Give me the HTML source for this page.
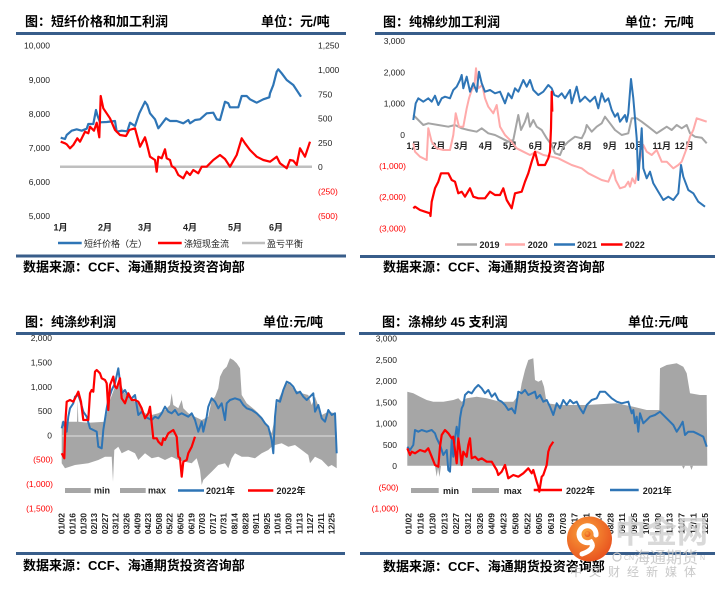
<!DOCTYPE html>
<html><head><meta charset="utf-8">
<style>
html,body{margin:0;padding:0;background:#fff;}
svg{display:block;}
.t{font-family:"Liberation Sans","Noto Sans CJK SC",sans-serif;font-weight:bold;font-size:13px;fill:#000;}
.n{font-family:"Liberation Sans",sans-serif;font-size:8.5px;fill:#222;}
.nr{font-family:"Liberation Sans",sans-serif;font-size:8.5px;fill:#f00;}
.m{font-family:"Liberation Sans","Noto Sans CJK SC",sans-serif;font-size:9px;font-weight:bold;fill:#222;}
.lg{font-family:"Liberation Sans","Noto Sans CJK SC",sans-serif;font-size:9px;fill:#222;}
.lb{font-family:"Liberation Sans","Noto Sans CJK SC",sans-serif;font-size:9px;font-weight:bold;fill:#222;}
.d{font-family:"Liberation Sans",sans-serif;font-size:8.5px;font-weight:bold;fill:#222;}
</style></head>
<body>
<svg width="724" height="589" viewBox="0 0 724 589" xmlns="http://www.w3.org/2000/svg">
<rect width="724" height="589" fill="#fff"/>

<!-- ===== Rules ===== -->
<g fill="#385D8A">
<rect x="16" y="32" width="330" height="3"/>
<rect x="375" y="32" width="340" height="3"/>
<rect x="16" y="254.5" width="330" height="3"/>
<rect x="360" y="255" width="355" height="3"/>
<rect x="16" y="332" width="329" height="3"/>
<rect x="359" y="332" width="356" height="3"/>
<rect x="16" y="552" width="329" height="3"/>
<rect x="360" y="552" width="355" height="3"/>
</g>

<!-- ===== Titles ===== -->
<text class="t" x="25" y="26">图：短纤价格和加工利润</text>
<text class="t" x="261" y="26">单位：元/吨</text>
<text class="t" x="383" y="26.5">图：纯棉纱加工利润</text>
<text class="t" x="625" y="26.5">单位：元/吨</text>
<text class="t" x="25" y="326.5">图：纯涤纱利润</text>
<text class="t" x="263" y="326.5">单位:元/吨</text>
<text class="t" x="382" y="326.5">图：涤棉纱 45 支利润</text>
<text class="t" x="628" y="326.5">单位:元/吨</text>

<text class="t" x="23" y="271.5">数据来源：CCF、海通期货投资咨询部</text>
<text class="t" x="383" y="271.5">数据来源：CCF、海通期货投资咨询部</text>
<text class="t" x="23" y="570">数据来源：CCF、海通期货投资咨询部</text>
<text class="t" x="383" y="571">数据来源：CCF、海通期货投资咨询部</text>

<!-- ===== TL chart ===== -->
<g text-anchor="end">
<text class="n" x="50" y="48.7">10,000</text>
<text class="n" x="50" y="82.8">9,000</text>
<text class="n" x="50" y="116.9">8,000</text>
<text class="n" x="50" y="151">7,000</text>
<text class="n" x="50" y="185.1">6,000</text>
<text class="n" x="50" y="219.2">5,000</text>
</g>
<text class="n" x="318" y="48.7">1,250</text>
<text class="n" x="318" y="73">1,000</text>
<text class="n" x="318" y="97.3">750</text>
<text class="n" x="318" y="121.6">500</text>
<text class="n" x="318" y="145.9">250</text>
<text class="n" x="318" y="170.2">0</text>
<text class="nr" x="318" y="194.5">(250)</text>
<text class="nr" x="318" y="218.8">(500)</text>
<g text-anchor="middle">
<text class="m" x="60.5" y="230.5">1月</text>
<text class="m" x="105" y="230.5">2月</text>
<text class="m" x="145" y="230.5">3月</text>
<text class="m" x="190" y="230.5">4月</text>
<text class="m" x="235" y="230.5">5月</text>
<text class="m" x="276" y="230.5">6月</text>
</g>
<line x1="60" y1="166.7" x2="312" y2="166.7" stroke="#BFBFBF" stroke-width="2.5"/>
<polyline fill="none" stroke="#2E75B6" stroke-width="2.2" stroke-linejoin="round" points="60.7,137.7 65,139 66.7,135 71.7,130.7 76.7,129.3 81.7,130.7 86.7,128.7 88.3,124 93.3,124 96,110 97.3,115 100,122.3 106.7,122 115,121 116.7,131.7 121.7,130.7 127.3,131.3 130,122.7 135,126 139.3,113.3 145,101.7 147.3,105 150,113.3 155,119.3 158.3,128.3 161.7,124 166,118.3 170,121 176.7,121 183.3,123.3 188.3,120 190,123.3 195,120 200,119.3 206.7,113.3 213.3,112.7 216.7,119.3 220,120 225,101.7 228.3,103.3 230,107.3 238.3,107.3 241.7,96 246.7,96 250,99.3 256.7,102.7 263.3,99.3 269.3,97.3 270,93.3 273.3,85 276.7,71.7 278.3,69.3 281.7,73.3 286.7,80 293.3,85 301,96.7"/>
<polyline fill="none" stroke="#FF0000" stroke-width="2.2" stroke-linejoin="round" points="60.7,141.7 65,143.3 66.7,144.3 70,148.3 73.3,145 77.3,138.3 80,141.7 85,131.7 88.3,133.3 90,126.7 94,130.7 96.7,122.7 99.3,137.3 100.7,96 103.3,108.3 110,118.3 115,130 120,135 126,136 129.3,130 135,128.3 140,146.7 145,137.3 146.7,143.3 150,156.7 155,160 156.7,171.7 158.3,156.7 161.7,158.3 165,149.3 166.7,158.3 170,160 171.7,166 175,168.3 178.3,175 183.3,178.3 186.7,171.7 190,175 193.3,170 198.3,173.3 201.7,166.7 206.7,166.7 213.3,160 220,155 225,159 230,166.7 236.7,155 241.7,138.3 245,143.3 250,150 256.7,156.7 263.3,160 270,161.7 276.7,156.7 280,163.3 286.7,168.3 290,160 293.3,160.7 296.7,165 300,148.3 305,156.7 310,141.7"/>
<line x1="58" y1="243" x2="81.7" y2="243" stroke="#2E75B6" stroke-width="2.5"/>
<text class="lg" x="84" y="247">短纤价格（左）</text>
<line x1="158" y1="243" x2="181.7" y2="243" stroke="#FF0000" stroke-width="2.5"/>
<text class="lg" x="184" y="247">涤短现金流</text>
<line x1="242" y1="243" x2="265" y2="243" stroke="#BFBFBF" stroke-width="2.5"/>
<text class="lg" x="267" y="247">盈亏平衡</text>

<!-- ===== TR chart ===== -->
<g text-anchor="end">
<text class="n" x="405" y="44.2">3,000</text>
<text class="n" x="405" y="75.4">2,000</text>
<text class="n" x="405" y="106.6">1,000</text>
<text class="n" x="405" y="137.8">0</text>
<text class="nr" x="406" y="169">(1,000)</text>
<text class="nr" x="406" y="200.2">(2,000)</text>
<text class="nr" x="406" y="231.4">(3,000)</text>
</g>
<g text-anchor="middle">
<text class="m" x="413.5" y="149">1月</text>
<text class="m" x="438.3" y="149">2月</text>
<text class="m" x="461" y="149">3月</text>
<text class="m" x="485.7" y="149">4月</text>
<text class="m" x="510" y="149">5月</text>
<text class="m" x="535.7" y="149">6月</text>
<text class="m" x="559" y="149">7月</text>
<text class="m" x="585" y="149">8月</text>
<text class="m" x="610" y="149">9月</text>
<text class="m" x="634.3" y="149">10月</text>
<text class="m" x="661.7" y="149">11月</text>
<text class="m" x="684.3" y="149">12月</text>
</g>
<polyline fill="none" stroke="#A5A5A5" stroke-width="2" stroke-linejoin="round" points="413.3,115 418.3,120 423.3,125 428.3,123.3 438.3,125 448.3,126.7 455,125 461.7,128.3 468.3,130 476.7,131.7 481.7,128.3 488.3,133.3 495,135 501.7,138.3 508.3,141.7 513.3,140 518.3,115 521,130 525,121.7 527.7,113.3 530,126.7 533.3,120 536.7,126.7 541.7,130 546.7,138.3 551.7,145 555,153.3 560,155 563.3,146.7 568.3,141.7 575,136.7 581.7,138.3 585,131.7 586.7,125 591.7,131.7 596.7,126.7 601.7,123.3 605,116.7 610,123.3 615,130 621.7,135 628.3,133.3 631.7,118.3 636.7,118.3 641.7,121.7 648.3,126.7 656.7,133.3 661.7,130 666.7,126.7 671.7,130 676.7,125 681.7,128.3 686.7,125 690,133.3 695,136.7 701.7,137.7 706.7,143.3"/>
<polyline fill="none" stroke="#FFAAAA" stroke-width="2" stroke-linejoin="round" points="413.3,143.3 415,151.7 420,156.7 426.7,160 428.3,128.3 431.7,141.7 436.7,148.3 443.3,150 450,150 453.3,135 455.7,113.3 459,126.7 463.3,126.7 466.7,108.3 469,98.3 471.7,90 474.3,86.7 476,68.3 478.3,88.3 482.3,85 485,98.3 488.3,106.7 493.3,113.3 496.7,105 500,126.7 505,135 510,140 516.7,148.3 523.3,151.7 530,155 536.7,151.7 543.3,155 551.7,156.7 558.3,158.3 565,161.7 571.7,165 581.7,168.3 588.3,173.3 601.7,180 608.3,181.7 613.3,170 615.7,180 620,188.3 625,186.7 628.3,181.7 630,186.7 632.3,178.3 635,183.3 643.3,145 646.7,151.7 651.7,155 656.7,150 661.7,161.7 666.7,161.7 673.3,168.3 678.3,165 681.7,161.7 686.7,148.3 690,136.7 693.3,130 696.7,118.3 701.7,120 706.7,121.7"/>
<polyline fill="none" stroke="#2E75B6" stroke-width="2" stroke-linejoin="round" points="413.3,120 415.7,103.3 418.3,98.3 423.3,101.7 428.3,98.3 431.7,101.7 435,95.7 438.3,105 441.7,98.3 445,96.7 450,98.3 453.3,90 456.7,86.7 460,80 461.7,75 463.3,88.3 466.7,76.7 470,91.7 473.3,83.3 476.7,91.7 479,71.7 481.7,83.3 485,91.7 490,90 495,93.3 500,91.7 505,103.3 508.3,93.3 511.7,98.3 515,88.3 518.3,91.7 523.3,80 526.7,86.7 530,80 533.3,90 538.3,95 543.3,91.7 548.3,85 551.7,88.3 554.3,95 558.3,96.7 561.7,93.3 565,98.3 570,90 571.7,103.3 576.7,86.7 580,101.7 585,96.7 590,101.7 595,96.7 598.3,108.3 601.7,93.3 605,101.7 608.3,98.3 611.7,110 615,116.7 617.7,113.3 620,121.7 625,115 626.7,121.7 628.3,113.3 631,79 633.3,98.3 636.7,138.3 638.3,180 641.7,128.3 643.3,168.3 646.7,178.3 650,171.7 653.3,183.3 658.3,191.7 663.3,200 668.3,196.7 673.3,200 678.3,193.3 681,165 683.3,176.7 688.3,190 693.3,193.3 698.3,201.7 705,206.7"/>
<polyline fill="none" stroke="#FF0000" stroke-width="2.2" stroke-linejoin="round" points="413.3,208.3 415,206.7 420,210 425,211.7 430,213.3 430.5,216 431.7,201.7 435,188.3 438.3,181.7 441,173.3 448.3,173.3 451.7,180 455,181.7 458.3,193.3 461.7,191.7 465,196.7 470,188.3 473.3,196.7 478.3,198.3 485,198.3 490,191.7 495,195 500,195 503.3,188.3 506.7,200 511.7,208.3 515,193.3 521.7,191.7 525,181.7 528.3,173.3 531.7,161.7 535,151.7 538.3,165 545,165 548.3,158.3 550,151.7 551,128.3 551.7,91.7 552.3,111.7"/>
<line x1="457" y1="244.5" x2="477" y2="244.5" stroke="#A5A5A5" stroke-width="2.5"/>
<text class="lb" x="479.5" y="248">2019</text>
<line x1="505" y1="244.5" x2="525" y2="244.5" stroke="#FFAAAA" stroke-width="2.5"/>
<text class="lb" x="527.7" y="248">2020</text>
<line x1="554" y1="244.5" x2="575" y2="244.5" stroke="#2E75B6" stroke-width="2.5"/>
<text class="lb" x="577" y="248">2021</text>
<line x1="601" y1="244.5" x2="622.5" y2="244.5" stroke="#FF0000" stroke-width="2.5"/>
<text class="lb" x="624.7" y="248">2022</text>

<!-- ===== BL chart ===== -->
<g text-anchor="end">
<text class="n" x="52" y="341.2">2,000</text>
<text class="n" x="52" y="365.5">1,500</text>
<text class="n" x="52" y="389.8">1,000</text>
<text class="n" x="52" y="414.1">500</text>
<text class="n" x="52" y="438.4">0</text>
<text class="nr" x="53" y="462.7">(500)</text>
<text class="nr" x="53" y="487">(1,000)</text>
<text class="nr" x="53" y="511.3">(1,500)</text>
</g>
<polygon fill="#A6A6A6" points="61.7,436 61.7,421.7 77,421.7 77.7,400 78.3,421.7 88.3,422.7 105,421.7 110,400 115,386.7 120,383.3 125,393.3 131.7,400 138.3,403.3 145,413.3 151.7,415 158.3,413.3 165,410 170,405 171.7,393.3 173.3,405 178.3,408.3 181.7,400 183.3,408.3 188.3,413.3 195,416.7 201.7,420 208.3,416.7 211.7,400 215,396.7 218.3,388.3 220,376.7 223.3,370 226.7,366.7 230,358.3 233.3,360 236.7,363.3 240,368.3 241.7,395 246.7,403.3 255,410 261.7,416.7 268.3,426.7 271.7,433.3 275,416.7 278.3,400 285,385 288.3,383.3 295,390 301.7,393.3 308.3,395 311.7,405 315,396.7 321.7,415 328.3,411.7 335,413.3 336.7,433.3 336.7,436"/>
<polygon fill="#A6A6A6" points="61.7,436 61.7,463.3 65,468.3 75,465 88.3,463.3 98.3,460 105,456.7 111.7,456.7 113,481.7 114.3,450 118.3,446.7 121.7,453.3 128.3,450 135,453.3 138.3,460 145,453.3 151.7,458.3 158.3,456.7 165,460 171.7,456.7 178.3,460 185,461.7 191.7,463.3 196.7,458.3 200,470 201.7,485 203.3,480 208.3,475 211.7,471.7 218.3,465 225,463.3 228.3,468.3 231.7,458.3 235,453.3 241.7,456.7 248.3,456.7 255,458.3 261.7,453.3 268.3,450 271.7,446.7 275,445 281.7,443.3 288.3,446.7 295,445 301.7,450 308.3,455 310,463.3 315,456.7 321.7,460 328.3,466.7 331.7,465 336.7,468.3 336.7,436"/>
<line x1="61.7" y1="436" x2="336.7" y2="436" stroke="#E0E0E0" stroke-width="1"/>
<polyline fill="none" stroke="#2E75B6" stroke-width="2" stroke-linejoin="round" points="61.7,428.3 63.3,421.7 66.7,431.7 68.3,416.7 70,408.3 73.3,403.3 75,396.7 78.3,395 80,400 83.3,411.7 86.7,416.7 90,428.3 93.3,430 96.7,431.7 98.3,446.7 101.7,448.3 103.3,430 106.7,408.3 108.3,400 111.7,390 115,383.3 118.3,368.3 120,381.7 121.7,393.3 125,390 128.3,396.7 131.7,398.3 135,395 138.3,415 141.7,411.7 145,416.7 148.3,418.3 151.7,420 155,416.7 158.3,418.3 161.7,413.3 165,406.7 168.3,411.7 171.7,413.3 175,410 178.3,415 181.7,413.3 185,415 188.3,416.7 191.7,413.3 195,420 198.3,431.7 201.7,421.7 203.3,431.7 206.7,416.7 208.3,406.7 211.7,398.3 215,401.7 218.3,408.3 221.7,403.3 225,420 226.7,403.3 230,400 235,398.3 240,400 243.3,405 246.7,408.3 251.7,410 256.7,413.3 261.7,418.3 265,423.3 268.3,426.7 271.7,440 273.3,453.3 275,416.7 276.7,400 280,401.7 283.3,390 286.7,381.7 290,383.3 293.3,386.7 296.7,393.3 300,391.7 303.3,396.7 306.7,400 310,396.7 313.3,393.3 315,411.7 318.3,405 321.7,418.3 325,421.7 328.3,410 331.7,415 335,413.3 336.7,453.3"/>
<polyline fill="none" stroke="#FF0000" stroke-width="2.2" stroke-linejoin="round" points="61.7,453.3 64.3,458.3 65.7,416.7 66.7,401.7 70,400 73.3,401.7 76.7,395 78.3,391.7 81,401.7 83.3,420 88.3,420 90,393.3 91.7,390 93.3,391.7 95,371.7 96.7,370 100,373.3 101.7,378.3 105,380 106.7,383.3 108.3,410 110,385 113.3,376.7 115,386.7 116.7,388.3 120,378.3 121.7,398.3 125,403.3 128.3,393.3 131.7,400 135,400 138.3,401.7 141.7,408.3 145,418.3 148.3,413.3 150,406.7 151.7,423.3 153.3,438.3 156.7,438.3 158.3,441.7 161.7,445 163.3,438.3 165,440 168.3,433.3 173.3,430 176.7,436.7 178.3,456.7 180,458.3 181.7,476.7 183.3,461.7 186.7,460 188.3,453.3 191.7,446.7 195,436.7"/>
<rect x="65" y="488" width="25.7" height="5" fill="#A6A6A6"/>
<text class="lb" x="94" y="493.5">min</text>
<rect x="120" y="488" width="25.7" height="5" fill="#A6A6A6"/>
<text class="lb" x="148" y="493.5">max</text>
<line x1="178" y1="490.5" x2="204" y2="490.5" stroke="#2E75B6" stroke-width="2.5"/>
<text class="lb" x="206" y="494">2021年</text>
<line x1="248" y1="490.5" x2="273.3" y2="490.5" stroke="#FF0000" stroke-width="2.5"/>
<text class="lb" x="276.5" y="494">2022年</text>
<g text-anchor="end">
<text class="d" transform="translate(64.7,513) rotate(-90)">01/02</text>
<text class="d" transform="translate(75.5,513) rotate(-90)">01/16</text>
<text class="d" transform="translate(86.3,513) rotate(-90)">01/30</text>
<text class="d" transform="translate(97.1,513) rotate(-90)">02/13</text>
<text class="d" transform="translate(107.9,513) rotate(-90)">02/27</text>
<text class="d" transform="translate(118.7,513) rotate(-90)">03/12</text>
<text class="d" transform="translate(129.5,513) rotate(-90)">03/26</text>
<text class="d" transform="translate(140.3,513) rotate(-90)">04/09</text>
<text class="d" transform="translate(151.1,513) rotate(-90)">04/23</text>
<text class="d" transform="translate(161.9,513) rotate(-90)">05/08</text>
<text class="d" transform="translate(172.7,513) rotate(-90)">05/22</text>
<text class="d" transform="translate(183.5,513) rotate(-90)">06/05</text>
<text class="d" transform="translate(194.3,513) rotate(-90)">06/19</text>
<text class="d" transform="translate(205.1,513) rotate(-90)">07/03</text>
<text class="d" transform="translate(215.9,513) rotate(-90)">07/17</text>
<text class="d" transform="translate(226.7,513) rotate(-90)">07/31</text>
<text class="d" transform="translate(237.5,513) rotate(-90)">08/14</text>
<text class="d" transform="translate(248.3,513) rotate(-90)">08/28</text>
<text class="d" transform="translate(259.1,513) rotate(-90)">09/11</text>
<text class="d" transform="translate(269.9,513) rotate(-90)">09/25</text>
<text class="d" transform="translate(280.7,513) rotate(-90)">10/16</text>
<text class="d" transform="translate(291.5,513) rotate(-90)">10/30</text>
<text class="d" transform="translate(302.3,513) rotate(-90)">11/13</text>
<text class="d" transform="translate(313.1,513) rotate(-90)">11/27</text>
<text class="d" transform="translate(323.9,513) rotate(-90)">12/11</text>
<text class="d" transform="translate(334.7,513) rotate(-90)">12/25</text>
</g>

<!-- ===== BR chart ===== -->
<g text-anchor="end">
<text class="n" x="397" y="341.5">3,000</text>
<text class="n" x="397" y="362.8">2,500</text>
<text class="n" x="397" y="384">2,000</text>
<text class="n" x="397" y="405.3">1,500</text>
<text class="n" x="397" y="426.5">1,000</text>
<text class="n" x="397" y="447.8">500</text>
<text class="n" x="397" y="469">0</text>
<text class="nr" x="398.5" y="490.3">(500)</text>
<text class="nr" x="398.5" y="511.5">(1,000)</text>
</g>
<polygon fill="#A6A6A6" points="407.3,465.8 407.3,391.7 413.3,393.3 420,396.7 426.7,400 433.3,401.7 443.3,401.7 453.3,400 458.3,398.3 461.7,401.7 466.7,398.3 476.7,396.7 486.7,398.3 500,401.7 513.3,401.7 520,393.3 521.7,383.3 525,370 528.3,360 533.3,358.3 535,380 538.3,381.7 541.7,380 544,386.7 546.7,403.3 560,405 586.7,405 616.7,403.3 633.3,406.7 646.7,410 653.3,410 659.3,410 660,368.3 666.7,365 676.7,363.3 683.3,366.7 686.7,373.3 690,393.3 700,395 706.7,395 707.3,465.8"/>
<polygon fill="#A6A6A6" points="435,465.8 436.7,476.7 438,468 439.5,477 441,465.8"/>
<polygon fill="#A6A6A6" points="682,465.8 683.5,469 685,465.8 690,465.8 691.5,470 693,465.8"/>
<polyline fill="none" stroke="#2E75B6" stroke-width="2" stroke-linejoin="round" points="407.3,446.7 410,450 413.3,445 415,430 418.3,431.7 421.7,430 426.7,431.7 431.7,430 435,433.3 436.7,438.3 440,445 443.3,455 446.7,450 448.3,470 450,471.7 451.7,440 453.3,456.7 455,438.3 456.7,426.7 458.3,438.3 460,418.3 461.7,408.3 463.3,405 465,395 468.3,391.7 471.7,393.3 475,388.3 478.3,385 481.7,388.3 485,393.3 488.3,390 491.7,396.7 495,393.3 498.3,400 501.7,401.7 505,405 508.3,410 511.7,408.3 515,413.3 518.3,391.7 521.7,393.3 525,390 528.3,395 531.7,393.3 535,391.7 536.7,398.3 540,395 543.3,401.7 546.7,400 550,406.7 553.3,415 556.7,403.3 560,408.3 563.3,400 566.7,405 570,400 573.3,403.3 576.7,401.7 580,408.3 583.3,413.3 586.7,405 591.7,400 596.7,398.3 600,391.7 605,391.7 608.3,395 611.7,398.3 616.7,401.7 621.7,403.3 628.3,401.7 631.7,413.3 633.3,410 635,423.3 636.7,416.7 638.3,431.7 640,413.3 643.3,423.3 646.7,420 650,416.7 655,415 660,411.7 665,416.7 670,421.7 673.3,425 676.7,431.7 680,426.7 682.7,421.7 685,435 688.3,431.7 693.3,431.7 696.7,433.3 700,435 703.3,436.7 706.7,446.7"/>
<polyline fill="none" stroke="#FF0000" stroke-width="2.2" stroke-linejoin="round" points="407.3,448.3 410,455 411.7,451.7 415,453.3 420,450 425,451.7 428.3,448.3 431.7,456.7 435,465 438.3,466.7 440,446.7 441.7,435 445,430 448.3,433.3 451.7,438.3 453.3,436.7 455,450 456.7,463.3 458.3,438.3 460,450 461.7,465 463.3,451.7 466.7,456.7 468.3,445 470,438.3 471.7,458.3 475,456.7 478.3,460 481.7,458.3 486.7,461.7 491.7,461.7 496.7,470 498.3,475 501.7,471.7 505,465 508.3,478.3 513.3,475 518.3,476.7 523.3,473.3 528.3,468.3 531.7,473.3 533.3,470 536.7,481.7 538.3,486.7 539.3,491.7 541.7,476.7 543.3,475 546.7,465 548.3,451.7 550,446.7 553.3,441.7"/>
<rect x="411" y="488" width="27.7" height="5" fill="#A6A6A6"/>
<text class="lb" x="443" y="494">min</text>
<rect x="472" y="488" width="27" height="5" fill="#A6A6A6"/>
<text class="lb" x="503.7" y="494">max</text>
<line x1="533.7" y1="490" x2="562" y2="490" stroke="#FF0000" stroke-width="2.5"/>
<text class="lb" x="566" y="494">2022年</text>
<line x1="610" y1="490" x2="638.7" y2="490" stroke="#2E75B6" stroke-width="2.5"/>
<text class="lb" x="642.7" y="494">2021年</text>
<g text-anchor="end">
<text class="d" transform="translate(411.7,513) rotate(-90)">01/02</text>
<text class="d" transform="translate(423.6,513) rotate(-90)">01/16</text>
<text class="d" transform="translate(435.4,513) rotate(-90)">01/30</text>
<text class="d" transform="translate(447.3,513) rotate(-90)">02/13</text>
<text class="d" transform="translate(459.1,513) rotate(-90)">02/27</text>
<text class="d" transform="translate(471,513) rotate(-90)">03/12</text>
<text class="d" transform="translate(482.9,513) rotate(-90)">03/26</text>
<text class="d" transform="translate(494.7,513) rotate(-90)">04/09</text>
<text class="d" transform="translate(506.6,513) rotate(-90)">04/23</text>
<text class="d" transform="translate(518.4,513) rotate(-90)">05/08</text>
<text class="d" transform="translate(530.3,513) rotate(-90)">05/22</text>
<text class="d" transform="translate(542.2,513) rotate(-90)">06/05</text>
<text class="d" transform="translate(554,513) rotate(-90)">06/19</text>
<text class="d" transform="translate(565.9,513) rotate(-90)">07/03</text>
<text class="d" transform="translate(577.7,513) rotate(-90)">07/17</text>
<text class="d" transform="translate(589.6,513) rotate(-90)">07/31</text>
<text class="d" transform="translate(601.5,513) rotate(-90)">08/14</text>
<text class="d" transform="translate(613.3,513) rotate(-90)">08/28</text>
<text class="d" transform="translate(625.2,513) rotate(-90)">09/11</text>
<text class="d" transform="translate(637,513) rotate(-90)">09/25</text>
<text class="d" transform="translate(648.9,513) rotate(-90)">10/16</text>
<text class="d" transform="translate(660.8,513) rotate(-90)">10/30</text>
<text class="d" transform="translate(672.6,513) rotate(-90)">11/13</text>
<text class="d" transform="translate(684.5,513) rotate(-90)">11/27</text>
<text class="d" transform="translate(696.3,513) rotate(-90)">12/11</text>
<text class="d" transform="translate(708.2,513) rotate(-90)">12/25</text>
</g>

<!-- ===== Watermark ===== -->
<defs>
<radialGradient id="og" cx="0.4" cy="0.35" r="0.7">
<stop offset="0" stop-color="#F9A23A"/>
<stop offset="1" stop-color="#E8501E"/>
</radialGradient>
</defs>
<circle cx="589.5" cy="539" r="22.5" fill="url(#og)"/>
<path d="M596,535 A8.5 8.5 0 1 0 591,542 Q596,549 582,554" fill="none" stroke="#fff" stroke-width="5" stroke-linecap="round"/>
<circle cx="587.5" cy="534" r="3" fill="url(#og)"/>
<text x="615" y="543" font-family="'Noto Sans CJK SC',sans-serif" font-weight="bold" font-size="31" fill="#D2D2D2" fill-opacity="0.85">中金网</text>
<circle cx="617" cy="557" r="4" fill="none" stroke="#C8C8C8" stroke-width="1.2"/>
<text x="624" y="560" font-family="'Liberation Sans',sans-serif" font-size="7" fill="#C8C8C8">CN</text>
<text x="634" y="563" font-family="'Noto Sans CJK SC',sans-serif" font-size="16" fill="#C4C4C4" fill-opacity="0.85">海通期货</text>
<text x="700" y="560" font-family="'Liberation Sans',sans-serif" font-size="7" fill="#C8C8C8">N</text>
<text x="570" y="576" font-family="'Noto Sans CJK SC',sans-serif" font-size="12" fill="#C8C8C8" letter-spacing="7">中文财经新媒体</text>
</svg>
</body></html>
